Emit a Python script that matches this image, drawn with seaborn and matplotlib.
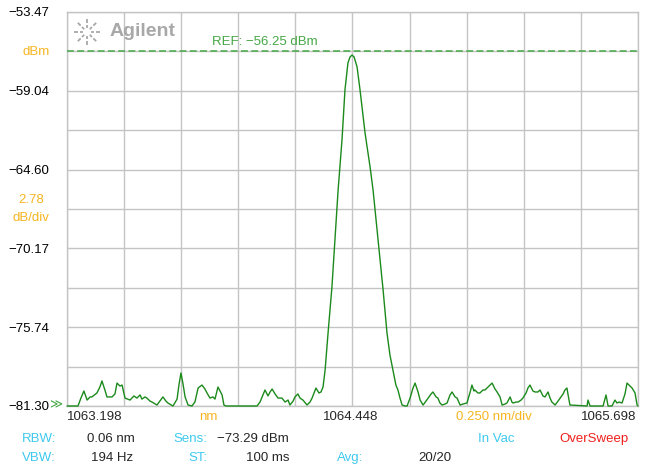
import numpy as np
import pandas as pd
import matplotlib
matplotlib.use("Agg")
import matplotlib.pyplot as plt
from matplotlib.lines import Line2D
import seaborn as sns

# ---------------- data ----------------
wavelength_nm = [
    1063.198, 1063.246, 1063.259, 1063.272, 1063.286, 1063.299, 1063.307, 1063.329, 1063.342, 1063.351,
    1063.364, 1063.373, 1063.395, 1063.408, 1063.417, 1063.430, 1063.439, 1063.452, 1063.474, 1063.491,
    1063.504, 1063.518, 1063.526, 1063.540, 1063.548, 1063.561, 1063.570, 1063.592, 1063.605, 1063.618,
    1063.631, 1063.640, 1063.662, 1063.680, 1063.688, 1063.697, 1063.706, 1063.715, 1063.728, 1063.745,
    1063.758, 1063.772, 1063.789, 1063.802, 1063.811, 1063.824, 1063.837, 1063.846, 1063.859, 1063.877,
    1063.885, 1063.894, 1064.030, 1064.043, 1064.056, 1064.065, 1064.078, 1064.087, 1064.096, 1064.109,
    1064.122, 1064.139, 1064.153, 1064.166, 1064.174, 1064.188, 1064.196, 1064.209, 1064.218, 1064.231,
    1064.249, 1064.262, 1064.271, 1064.288, 1064.301, 1064.310, 1064.319, 1064.328, 1064.341, 1064.358,
    1064.371, 1064.385, 1064.402, 1064.415, 1064.428, 1064.437, 1064.446, 1064.455, 1064.468, 1064.481,
    1064.503, 1064.525, 1064.538, 1064.560, 1064.582, 1064.599, 1064.612, 1064.625, 1064.638, 1064.647,
    1064.656, 1064.665, 1064.678, 1064.687, 1064.700, 1064.713, 1064.722, 1064.735, 1064.744, 1064.757,
    1064.770, 1064.779, 1064.792, 1064.800, 1064.814, 1064.822, 1064.831, 1064.840, 1064.853, 1064.862,
    1064.875, 1064.884, 1064.897, 1064.906, 1064.919, 1064.932, 1064.949, 1064.962, 1064.971, 1064.980,
    1064.984, 1064.997, 1065.006, 1065.019, 1065.028, 1065.041, 1065.050, 1065.059, 1065.072, 1065.081,
    1065.094, 1065.103, 1065.116, 1065.124, 1065.138, 1065.146, 1065.151, 1065.164, 1065.173, 1065.186,
    1065.194, 1065.208, 1065.216, 1065.225, 1065.238, 1065.247, 1065.260, 1065.269, 1065.282, 1065.291,
    1065.304, 1065.313, 1065.321, 1065.335, 1065.348, 1065.357, 1065.370, 1065.378, 1065.387, 1065.392,
    1065.400, 1065.475, 1065.479, 1065.488, 1065.545, 1065.558, 1065.567, 1065.584, 1065.597, 1065.606,
    1065.615, 1065.628, 1065.641, 1065.650, 1065.663, 1065.672, 1065.685, 1065.694, 1065.698,
]
power_dbm = [
    -81.30, -81.30, -80.74, -80.24, -80.88, -80.66, -80.66, -80.38, -79.96, -79.53,
    -80.17, -80.66, -80.66, -80.45, -79.68, -79.89, -79.82, -80.74, -80.88, -80.59,
    -80.74, -80.52, -80.81, -80.66, -80.74, -80.95, -81.02, -81.23, -80.95, -80.66,
    -80.95, -81.09, -81.30, -80.81, -79.82, -78.97, -79.75, -80.66, -81.23, -81.30,
    -81.02, -80.03, -79.82, -80.10, -80.38, -80.74, -80.66, -80.81, -79.96, -80.52,
    -81.23, -81.30, -81.30, -81.02, -80.52, -80.17, -80.59, -80.31, -80.10, -80.45,
    -80.74, -80.74, -81.02, -80.88, -81.23, -80.95, -80.66, -80.45, -80.74, -80.88,
    -81.23, -81.02, -80.74, -80.03, -80.38, -80.31, -79.96, -78.76, -76.14, -72.89,
    -69.57, -66.04, -62.51, -58.98, -57.07, -56.65, -56.51, -56.65, -57.35, -58.98,
    -62.02, -64.42, -66.04, -69.57, -73.11, -76.14, -77.70, -78.76, -79.82, -80.17,
    -80.74, -81.23, -81.30, -81.30, -80.74, -80.03, -79.68, -80.31, -80.88, -81.23,
    -80.95, -80.74, -80.45, -80.31, -80.66, -80.74, -81.09, -81.23, -81.16, -81.09,
    -80.52, -80.31, -80.66, -80.74, -81.23, -81.16, -81.09, -80.38, -79.82, -80.24,
    -80.17, -80.38, -80.38, -80.17, -80.17, -79.96, -79.82, -79.68, -80.10, -80.31,
    -80.66, -81.23, -81.16, -81.09, -80.66, -81.02, -81.09, -81.02, -81.02, -80.88,
    -80.74, -80.38, -80.03, -79.82, -80.24, -80.31, -80.31, -80.17, -80.59, -80.66,
    -80.31, -80.74, -81.02, -81.23, -80.95, -80.74, -80.45, -80.17, -80.03, -80.52,
    -81.23, -81.30, -80.88, -81.30, -81.30, -80.52, -81.30, -81.30, -80.88, -81.09,
    -81.02, -81.09, -80.45, -79.68, -79.89, -80.03, -80.38, -81.23, -81.30,
]

X_START, X_CENTER, X_STOP = 1063.198, 1064.448, 1065.698
X_DIV = 0.250
Y_TOP, Y_BOTTOM = -53.47, -81.30
Y_DIV = 2.783
REF_LEVEL = -56.25
y_tick_labels = ["\u221253.47", "\u221259.04", "\u221264.60", "\u221270.17", "\u221275.74", "\u221281.30"]
x_tick_labels = ["1063.198", "1064.448", "1065.698"]

# ---------------- style ----------------
sns.set_style("white")
plt.rcParams["font.family"] = ["Liberation Sans", "DejaVu Sans"]

W, H = 646, 468
fig = plt.figure(figsize=(W / 100, H / 100), dpi=100)
L, R, T, B = 67, 638, 12, 406
ax = fig.add_axes([L / W, 1 - B / H, (R - L) / W, (B - T) / H])

GRID = "#c4c4c4"
TRACE = "#1b8a1b"
REFC = "#45a845"
ORANGE = "#f6b521"
CYAN = "#3fc9ef"
RED = "#f0201c"

df = pd.DataFrame({"wl": wavelength_nm, "p": power_dbm})
sns.lineplot(data=df, x="wl", y="p", ax=ax, color=TRACE, lw=1.0,
             estimator=None, sort=False, clip_on=False, zorder=4)

ax.set_xlim(X_START, X_STOP)
ax.set_ylim(Y_BOTTOM, Y_TOP)
xgrid = [X_START + i * X_DIV for i in range(11)]
ygrid = [Y_TOP - i * Y_DIV for i in range(11)]
ax.set_xticks(xgrid)
ax.set_xticklabels([])
ax.set_yticks(ygrid[::2])
ax.set_yticks(ygrid[1::2], minor=True)
ax.set_yticklabels(y_tick_labels, fontsize=9.5, color="black")
ax.tick_params(axis="both", which="both", length=0)
ax.tick_params(axis="y", pad=13)
ax.grid(True, which="both", color=GRID, lw=1.0)
for s in ax.spines.values():
    s.set_color(GRID)
    s.set_linewidth(1.0)
ax.set_xlabel("")
ax.set_ylabel("")

# reference line
ax.axhline(REF_LEVEL, color=REFC, lw=1.1, ls=(0, (4.5, 2.2)), zorder=3.5)
ax.text(1063.833, REF_LEVEL + 0.25, "REF: \u221256.25 dBm", color=REFC,
        fontsize=9.5, ha="left", va="bottom")

def fx(px):
    return px / W

def fy(py):
    return 1 - py / H

# x labels
fig.text(fx(67), fy(417), x_tick_labels[0], ha="left", va="center", fontsize=9.5)
fig.text(fx(351), fy(417), x_tick_labels[1], ha="center", va="center", fontsize=9.5)
fig.text(fx(636), fy(417), x_tick_labels[2], ha="right", va="center", fontsize=9.5)
fig.text(fx(208), fy(417), "nm", ha="center", va="center", fontsize=9.5, color=ORANGE)
fig.text(fx(494), fy(417), "0.250 nm/div", ha="center", va="center", fontsize=9.5, color=ORANGE)

# left side annotations
fig.text(fx(36), fy(52), "dBm", ha="center", va="center", fontsize=9.5, color=ORANGE)
fig.text(fx(31), fy(200), "2.78", ha="center", va="center", fontsize=9.5, color=ORANGE)
fig.text(fx(31), fy(218), "dB/div", ha="center", va="center", fontsize=9.5, color=ORANGE)
fig.text(fx(49), fy(405), "\u226b", ha="left", va="center", fontsize=9, color=REFC,
         family="DejaVu Sans")

# bottom status rows
r1, r2 = 439, 458
fig.text(fx(22), fy(r1), "RBW:", ha="left", va="center", fontsize=9.5, color=CYAN)
fig.text(fx(135), fy(r1), "0.06 nm", ha="right", va="center", fontsize=9.5)
fig.text(fx(207), fy(r1), "Sens:", ha="right", va="center", fontsize=9.5, color=CYAN)
fig.text(fx(217), fy(r1), "\u221273.29 dBm", ha="left", va="center", fontsize=9.5)
fig.text(fx(478), fy(r1), "In Vac", ha="left", va="center", fontsize=9.5, color=CYAN)
fig.text(fx(559), fy(r1), "OverSweep", ha="left", va="center", fontsize=9.5, color=RED)
fig.text(fx(22), fy(r2), "VBW:", ha="left", va="center", fontsize=9.5, color=CYAN)
fig.text(fx(133), fy(r2), "194 Hz", ha="right", va="center", fontsize=9.5)
fig.text(fx(207), fy(r2), "ST:", ha="right", va="center", fontsize=9.5, color=CYAN)
fig.text(fx(246), fy(r2), "100 ms", ha="left", va="center", fontsize=9.5)
fig.text(fx(337), fy(r2), "Avg:", ha="left", va="center", fontsize=9.5, color=CYAN)
fig.text(fx(418), fy(r2), "20/20", ha="left", va="center", fontsize=9.5)

# Agilent logo (decorative)
LOGO = "#a8a8a8"
cx, cy = 87, 32
for k in range(8):
    a = k * np.pi / 4
    for r0, r1_ in [(4, 7), (9, 13)]:
        fig.add_artist(Line2D([fx(cx + r0 * np.cos(a)), fx(cx + r1_ * np.cos(a))],
                              [fy(cy + r0 * np.sin(a)), fy(cy + r1_ * np.sin(a))],
                              color=LOGO, lw=1.3, solid_capstyle="butt"))
fig.text(fx(110), fy(31), "Agilent", ha="left", va="center", fontsize=14,
         fontweight="bold", color=LOGO)

fig.savefig("out.png", dpi=100, facecolor="white")
